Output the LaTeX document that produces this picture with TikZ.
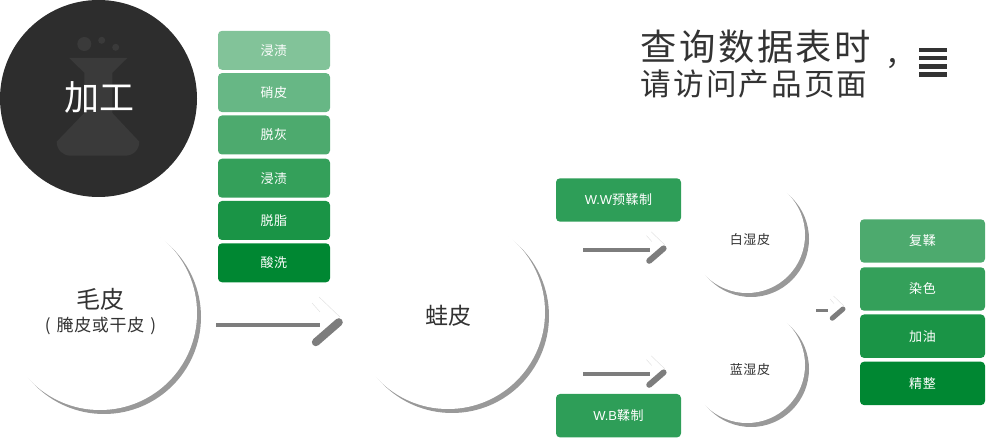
\documentclass[tikz,border=0pt]{standalone}
\usepackage{fontspec}
\setmainfont{Liberation Sans}
\newfontfamily\cjk{Noto Sans CJK SC}
\newfontfamily\cjkwide[LetterSpace=4]{Noto Sans CJK SC}
\newfontfamily\cjktitle[LetterSpace=7]{Noto Sans CJK SC}
\definecolor{inkdark}{HTML}{2D2D2D}
\definecolor{flaskgray}{HTML}{3A3A3A}
\definecolor{shadowgray}{HTML}{999999}
\definecolor{arrowgray}{HTML}{7D7D7D}
\definecolor{fadegray}{HTML}{E2E2E2}
\definecolor{textdark}{HTML}{333333}
\definecolor{greenA}{HTML}{82C399}
\definecolor{greenB}{HTML}{67B785}
\definecolor{greenC}{HTML}{4DAA6E}
\definecolor{greenD}{HTML}{34A05A}
\definecolor{greenE}{HTML}{1A9446}
\definecolor{greenF}{HTML}{008732}
\definecolor{greenW}{HTML}{2E9E58}
\tikzset{
	stepbox/.style={rounded corners=4pt,draw=none,text=white,minimum width=112pt,minimum height=39pt,inner sep=0pt,font=\fontsize{13}{13}\cjkwide},
	widebox/.style={stepbox,minimum width=125pt,minimum height=43.4pt},
	hide/.style={circle,fill=white,minimum size=194pt,inner sep=0pt,align=center,text=textdark},
	wet/.style={hide,minimum size=116pt,font=\fontsize{13}{13}\cjkwide},
	hideshadow/.style={circle,fill=shadowgray,minimum size=194pt,inner sep=0pt},
	wetshadow/.style={hideshadow,minimum size=116pt}
}
\begin{document}
\begin{tikzpicture}[x=1pt,y=-1pt,line join=round]
	\useasboundingbox (0,0) rectangle (986,438);
	\path
	(216,325) coordinate (hidetail)
	(342,319) coordinate (hidetip)
	(583,250) coordinate (wwtail)
	(666,246) coordinate (wwtip)
	(583,373.7) coordinate (wbtail)
	(666,370) coordinate (wbtip)
	(816,311) coordinate (mixtail)
	(845,307) coordinate (mixtip)
	;
	% processing circle with flask
	\node[circle,fill=inkdark,minimum size=197pt,inner sep=0pt] (process) at (98.5,98.5) {};
	\fill[flaskgray] (84.3,44) circle (7) (101.7,40.3) circle (3.5) (115.7,47.3) circle (3.5);
	\fill[flaskgray] (69.3,58) -- (127.3,58) -- (112.3,72.7) -- (112.3,113) -- (139.3,141.7)
		.. controls (139.3,150) and (133,155.7) .. (125,155.7) -- (70.7,155.7)
		.. controls (63,155.7) and (56.7,150) .. (56.7,141.7) -- (84.3,113) -- (84.3,72.7) -- cycle;
	\node[text=white,font=\fontsize{35}{35}\cjk] (processlabel) at (99.5,97) {加工};
	% circles
	\foreach \p/\s/\x/\y in {rawshadow/hideshadow/104/317,frogshadow/hideshadow/452/316,whiteshadow/wetshadow/751/239,blueshadow/wetshadow/751/369}
	\node[\s] (\p) at (\x,\y) {};
	\node[hide] (raw) at (100,313) {};
	\node[hide] (frog) at (448,312) {};
	\node[wet] (white) at (747,235) {};
	\node[wet] (blue) at (747,365) {};
	\node[text=textdark,font=\fontsize{24}{24}\cjk] (rawname) at (100.5,299) {毛皮};
	\node[text=textdark,font=\fontsize{17}{17}\cjkwide] (rawnote) at (100.5,326.5) {(\hspace{6pt}腌皮或干皮\hspace{6pt})};
	\node[text=textdark,font=\fontsize{23}{23}\cjk] (frogname) at (448.5,316) {蛙皮};
	\node[text=textdark,font=\fontsize{13}{13}\cjkwide] (whitename) at (750,240) {白湿皮};
	\node[text=textdark,font=\fontsize{13}{13}\cjkwide] (bluename) at (750,370) {蓝湿皮};
	% left stack
	\foreach \n/\c/\y/\t in {soakA/greenA/50.3/浸渍,lime/greenB/92.6/硝皮,delime/greenC/135/脱灰,soakB/greenD/178.2/浸渍,degrease/greenE/220.5/脱脂,pickle/greenF/262.8/酸洗}
	\node[stepbox,fill=\c] (\n) at (274,\y) {\t};
	% right stack
	\foreach \n/\c/\y/\t in {retan/greenC/241/复鞣,dye/greenD/289/染色,oil/greenE/336.2/加油,finish/greenF/383.4/精整}
	\node[widebox,fill=\c] (\n) at (922.5,\y) {\t};
	\node[widebox,fill=greenW] (wwtan) at (618.5,200) {{\rmfamily W.W}预鞣制};
	\node[widebox,fill=greenW] (wbtan) at (618.5,415.7) {{\rmfamily W.B}鞣制};
	% arrows
	\foreach \p/\s/\l/\w/\b in {hide/1/104/4/8,ww/0.65/67/4/6,wb/0.65/67/4/6,mix/0.5/12/3/5}{
		\fill[arrowgray] (\p tail)+(0,-\w/2) rectangle +(\l,\w/2);
		\draw[arrowgray,line width=\b,line cap=round] (\p tip)+(-\b*0.4,\b*0.4) -- +(-29*\s+\b*0.35,26*\s-\b*0.35);
		\draw[fadegray,line width=0.5] (\p tip)+(-2*\s,-2*\s) -- +(-23*\s,-22*\s);
		\draw[fadegray,line width=0.5] (\p tip)+(-22*\s,-7*\s) -- +(-30*\s,-16*\s);
	}
	% title
	\node[text=textdark,anchor=west,font=\fontsize{36.3}{36.3}\cjktitle] (title) at (637,47) {查询数据表时};
	\node[text=textdark,font=\fontsize{30}{30}\cjk] (comma) at (900,64) {，};
	\node[text=textdark,anchor=west,font=\fontsize{30.6}{30.6}\cjktitle] (subtitle) at (637,84) {请访问产品页面};
	\foreach \y in {50,58,66.5,74.5}
	\fill[textdark] (919,\y-2.2) rectangle (947,\y+2.2);
\end{tikzpicture}
\end{document}
